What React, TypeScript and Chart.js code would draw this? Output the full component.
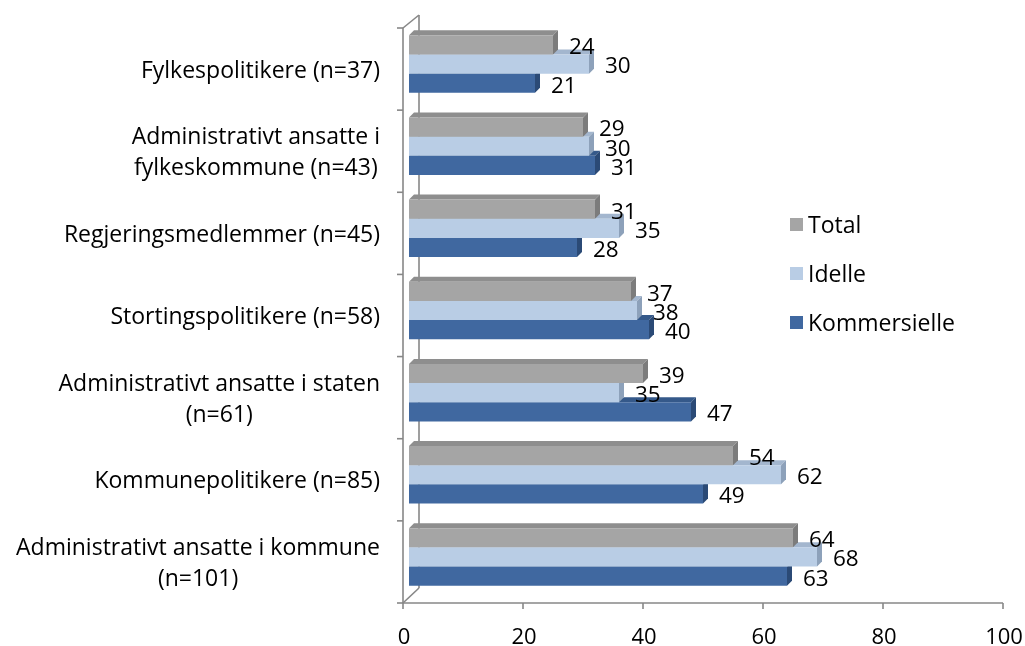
import React, { useEffect, useRef } from "react";
import { Chart, registerables } from "chart.js";

Chart.register(...registerables);

const categories: string[][] = [
  ["Fylkespolitikere (n=37)"],
  ["Administrativt ansatte i", "fylkeskommune (n=43)"],
  ["Regjeringsmedlemmer (n=45)"],
  ["Stortingspolitikere (n=58)"],
  ["Administrativt ansatte i staten", "(n=61)"],
  ["Kommunepolitikere (n=85)"],
  ["Administrativt ansatte i kommune", "(n=101)"],
];
const seriesNames = ["Total", "Idelle", "Kommersielle"];
const totalValues = [24, 29, 31, 37, 39, 54, 64];
const idelleValues = [30, 30, 35, 38, 35, 62, 68];
const kommersielleValues = [21, 31, 28, 40, 47, 49, 63];
const xTicks = [0, 20, 40, 60, 80, 100];

const FONT = "'Open Sans', 'Noto Sans', sans-serif";
const frontColors = ["#A5A5A5", "#B9CDE5", "#4068A0"];
const topColors = ["#8E8E8E", "#A3B6CE", "#35598A"];
const sideColors = ["#7C7C7C", "#8DA1BA", "#2B4A76"];
const AXIS = "#878787";
const DEPTH = 5;

const decoPlugin = {
  id: "deco",
  beforeDatasetsDraw(chart: any) {
    const ctx = chart.ctx as CanvasRenderingContext2D;
    const area = chart.chartArea;
    const xs = chart.scales.x;
    const n = categories.length;
    const band = (area.bottom - area.top) / n;
    const fx = area.left - 6;
    const fy0 = area.top + 5;
    const fy1 = area.bottom + 5;
    const bx = area.left + 10;
    const by0 = area.top - 8;
    const by1 = area.bottom - 10;
    const line = (x1: number, y1: number, x2: number, y2: number) => {
      ctx.beginPath();
      ctx.moveTo(x1, y1);
      ctx.lineTo(x2, y2);
      ctx.stroke();
    };
    ctx.save();
    ctx.strokeStyle = AXIS;
    ctx.lineWidth = 1.6;
    line(bx, by0, bx, by1);
    line(fx, fy0, bx, by0);
    line(fx, fy1, bx, by1);
    line(fx, fy0, fx, fy1);
    line(fx, fy1, xs.getPixelForValue(100) - 6, fy1);
    xTicks.forEach((v) => {
      const px = xs.getPixelForValue(v) - 6;
      line(px, fy1, px, fy1 + 6);
    });
    for (let i = 0; i <= n; i++) {
      const y = fy0 + i * band;
      line(fx - 6, y, fx, y);
    }
    for (let d = chart.data.datasets.length - 1; d >= 0; d--) {
      const meta = chart.getDatasetMeta(d);
      meta.data.forEach((bar: any) => {
        const p = bar.getProps(["x", "y", "base", "height"], true);
        const top = p.y - p.height / 2;
        const bottom = p.y + p.height / 2;
        ctx.fillStyle = topColors[d];
        ctx.beginPath();
        ctx.moveTo(p.base, top);
        ctx.lineTo(p.base + DEPTH, top - DEPTH);
        ctx.lineTo(p.x + DEPTH, top - DEPTH);
        ctx.lineTo(p.x, top);
        ctx.closePath();
        ctx.fill();
        ctx.fillStyle = sideColors[d];
        ctx.beginPath();
        ctx.moveTo(p.x, top);
        ctx.lineTo(p.x + DEPTH, top - DEPTH);
        ctx.lineTo(p.x + DEPTH, bottom - DEPTH);
        ctx.lineTo(p.x, bottom);
        ctx.closePath();
        ctx.fill();
      });
    }
    ctx.restore();
  },
  afterDatasetsDraw(chart: any) {
    const ctx = chart.ctx as CanvasRenderingContext2D;
    ctx.save();
    ctx.fillStyle = "#000";
    ctx.font = `22.5px ${FONT}`;
    ctx.textAlign = "left";
    ctx.textBaseline = "middle";
    chart.data.datasets.forEach((ds: any, d: number) => {
      const meta = chart.getDatasetMeta(d);
      meta.data.forEach((bar: any, i: number) => {
        const p = bar.getProps(["x", "y"], true);
        ctx.fillText(String(ds.data[i]), p.x + 16, p.y + 3);
      });
    });
    ctx.restore();
  },
  afterDraw(chart: any) {
    const ctx = chart.ctx as CanvasRenderingContext2D;
    const ys = chart.scales.y;
    ctx.save();
    ctx.fillStyle = "#000";
    ctx.font = `23px ${FONT}`;
    ctx.textAlign = "center";
    ctx.textBaseline = "middle";
    const lh = 31;
    categories.forEach((lines, i) => {
      const cy = ys.getPixelForValue(i) + 7;
      const w = Math.max(...lines.map((l) => ctx.measureText(l).width));
      const cx = 380 - w / 2;
      lines.forEach((l, j) => {
        ctx.fillText(l, cx, cy + (j - (lines.length - 1) / 2) * lh);
      });
    });
    ctx.textAlign = "left";
    chart.data.datasets.forEach((ds: any, d: number) => {
      const y = 225 + d * 49;
      ctx.fillStyle = frontColors[d];
      ctx.fillRect(790, y - 7, 13, 13);
      ctx.fillStyle = "#000";
      ctx.fillText(ds.label, 808, y + 1);
    });
    ctx.restore();
  },
};

export default function App() {
  const ref = useRef<HTMLCanvasElement | null>(null);
  useEffect(() => {
    if (!ref.current) return;
    const chart = new Chart(ref.current, {
      type: "bar",
      data: {
        labels: categories.map((c) => c.join(" ")),
        datasets: [
          { label: seriesNames[0], data: totalValues, backgroundColor: frontColors[0] },
          { label: seriesNames[1], data: idelleValues, backgroundColor: frontColors[1] },
          { label: seriesNames[2], data: kommersielleValues, backgroundColor: frontColors[2] },
        ],
      },
      options: {
        indexAxis: "y",
        responsive: false,
        animation: false,
        devicePixelRatio: 1,
        layout: { padding: { left: 409, right: 16, top: 23, bottom: 0 } },
        datasets: { bar: { barPercentage: 1, categoryPercentage: 0.7, borderWidth: 0 } },
        plugins: { legend: { display: false }, tooltip: { enabled: false } },
        scales: {
          y: { type: "category", display: false, offset: true },
          x: {
            type: "linear",
            min: 0,
            max: 100,
            grid: { display: false, drawTicks: false },
            border: { display: false },
            afterBuildTicks: (scale: any) => {
              scale.ticks = xTicks.map((v) => ({ value: v }));
            },
            afterFit: (scale: any) => {
              scale.height = 48;
              scale.paddingLeft = 0;
              scale.paddingRight = 0;
            },
            ticks: {
              padding: 27,
              labelOffset: -5,
              color: "#000",
              font: { family: FONT, size: 22 },
            },
          },
        },
      },
      plugins: [decoPlugin],
    } as any);
    return () => chart.destroy();
  }, []);
  return (
    <canvas
      ref={ref}
      width={1025}
      height={646}
      style={{ position: "fixed", left: 0, top: 0, width: 1025, height: 646 }}
    />
  );
}
